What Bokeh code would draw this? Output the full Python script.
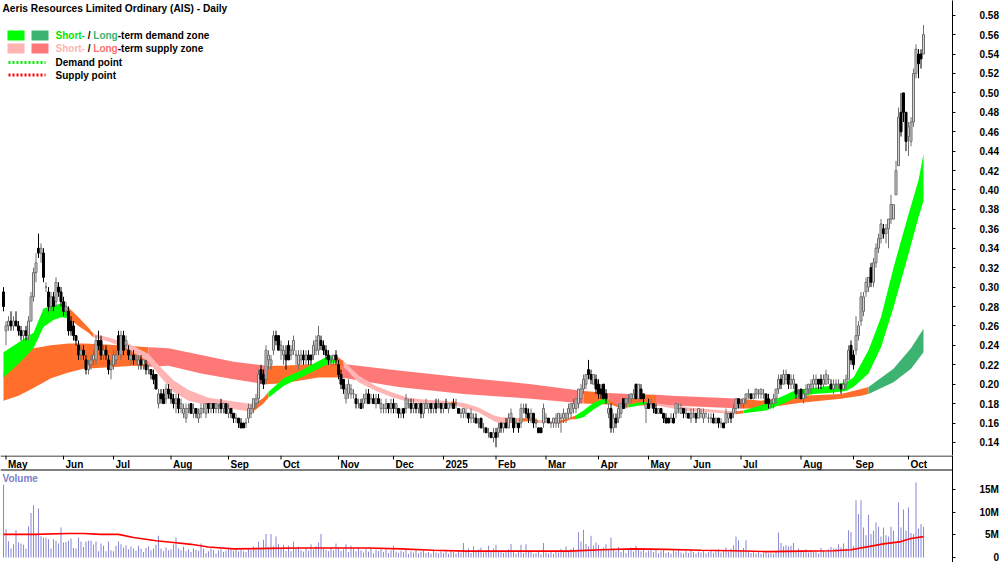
from bokeh.plotting import figure
from bokeh.models import Range1d, FixedTicker, PrintfTickFormatter, ColumnDataSource, Span
from bokeh.layouts import column
from bokeh.embed import file_html
from bokeh.resources import INLINE
from bokeh.core.properties import value

# ------------------------------------------------------------------ data
title_text = "Aeris Resources Limited Ordinary (AIS) - Daily"
month_labels = ["May", "Jun", "Jul", "Aug", "Sep", "Oct", "Nov", "Dec", "2025", "Feb",
                "Mar", "Apr", "May", "Jun", "Jul", "Aug", "Sep", "Oct"]
month_start_bar = [1, 24, 44, 67, 90, 111, 134, 156, 176, 197, 217, 238, 258, 275, 295, 319, 340, 362]
price_ticks = [0.14, 0.16, 0.18, 0.20, 0.22, 0.24, 0.26, 0.28, 0.30, 0.32, 0.34, 0.36,
               0.38, 0.40, 0.42, 0.44, 0.46, 0.48, 0.50, 0.52, 0.54, 0.56, 0.58]
vol_ticks = [0, 5, 10, 15]
vol_tick_labels = ["\u2007\u2007 0", "\u20075M", "10M", "15M"]

opens = [
    0.295, 0.255, 0.260, 0.265, 0.260, 0.265, 0.260, 0.255, 0.250, 0.255, 0.250, 0.265, 0.290, 0.315, 0.340, 0.335, 0.335, 0.300, 0.295, 0.280, 0.290, 0.285, 0.300, 0.295,
    0.285, 0.275, 0.275, 0.265, 0.260, 0.250, 0.240, 0.230, 0.235, 0.225, 0.215, 0.220, 0.225, 0.225, 0.245, 0.245, 0.230, 0.235, 0.225, 0.215,
    0.220, 0.225, 0.250, 0.230, 0.250, 0.240, 0.235, 0.225, 0.230, 0.225, 0.220, 0.225, 0.220, 0.220, 0.215, 0.215, 0.210, 0.210, 0.180, 0.190, 0.190, 0.185, 0.195,
    0.190, 0.185, 0.180, 0.185, 0.175, 0.170, 0.165, 0.175, 0.180, 0.170, 0.175, 0.165, 0.170, 0.175, 0.170, 0.180, 0.175, 0.180, 0.175, 0.175, 0.180, 0.175, 0.180,
    0.170, 0.175, 0.170, 0.165, 0.165, 0.160, 0.160, 0.160, 0.165, 0.170, 0.175, 0.180, 0.185, 0.215, 0.210, 0.205, 0.225, 0.220, 0.235, 0.250, 0.250,
    0.235, 0.230, 0.230, 0.240, 0.230, 0.235, 0.230, 0.220, 0.225, 0.230, 0.225, 0.230, 0.230, 0.230, 0.235, 0.235, 0.245, 0.240, 0.235, 0.230, 0.225, 0.225, 0.230,
    0.220, 0.210, 0.205, 0.185, 0.190, 0.190, 0.190, 0.185, 0.180, 0.180, 0.180, 0.185, 0.190, 0.185, 0.185, 0.180, 0.185, 0.175, 0.175, 0.175, 0.180, 0.175,
    0.180, 0.175, 0.175, 0.170, 0.175, 0.175, 0.180, 0.180, 0.175, 0.180, 0.175, 0.180, 0.170, 0.175, 0.175, 0.180, 0.175, 0.180, 0.180, 0.180,
    0.175, 0.180, 0.175, 0.180, 0.180, 0.180, 0.175, 0.170, 0.170, 0.170, 0.170, 0.165, 0.165, 0.165, 0.160, 0.165, 0.155, 0.155, 0.150, 0.150, 0.145,
    0.150, 0.150, 0.160, 0.155, 0.160, 0.155, 0.165, 0.165, 0.160, 0.160, 0.160, 0.175, 0.175, 0.170, 0.165, 0.170, 0.160, 0.155, 0.155, 0.160,
    0.165, 0.165, 0.160, 0.160, 0.160, 0.160, 0.165, 0.165, 0.165, 0.170, 0.170, 0.175, 0.175, 0.180, 0.185, 0.195, 0.200, 0.215, 0.210, 0.200, 0.205,
    0.200, 0.195, 0.200, 0.190, 0.170, 0.175, 0.155, 0.165, 0.165, 0.170, 0.185, 0.180, 0.185, 0.185, 0.185, 0.200, 0.185, 0.195, 0.190, 0.175,
    0.180, 0.180, 0.180, 0.175, 0.170, 0.175, 0.170, 0.165, 0.165, 0.165, 0.165, 0.170, 0.175, 0.170, 0.175, 0.170, 0.170,
    0.165, 0.170, 0.170, 0.165, 0.170, 0.165, 0.170, 0.165, 0.165, 0.165, 0.160, 0.165, 0.160, 0.160, 0.160, 0.165, 0.170, 0.170, 0.175, 0.185,
    0.180, 0.180, 0.185, 0.190, 0.190, 0.185, 0.190, 0.190, 0.190, 0.190, 0.190, 0.185, 0.180, 0.180, 0.185, 0.195, 0.205, 0.200, 0.205, 0.210, 0.200, 0.200, 0.200, 0.190,
    0.195, 0.185, 0.190, 0.195, 0.195, 0.200, 0.200, 0.205, 0.205, 0.200, 0.200, 0.205, 0.200, 0.195, 0.200, 0.200, 0.200, 0.195, 0.200, 0.205, 0.240,
    0.230, 0.235, 0.250, 0.265, 0.275, 0.295, 0.300, 0.320, 0.305, 0.325, 0.340, 0.350, 0.360, 0.355, 0.360, 0.370, 0.370, 0.395, 0.425, 0.480, 0.500, 0.480,
    0.455, 0.450, 0.470, 0.520, 0.540, 0.540, 0.540,
]
highs = [
    0.300, 0.265, 0.270, 0.275, 0.270, 0.275, 0.265, 0.260, 0.255, 0.260, 0.270, 0.295, 0.320, 0.335, 0.355, 0.345, 0.340, 0.305, 0.300, 0.295, 0.295, 0.310, 0.305, 0.300,
    0.290, 0.285, 0.280, 0.270, 0.265, 0.250, 0.245, 0.240, 0.240, 0.230, 0.225, 0.230, 0.235, 0.250, 0.255, 0.250, 0.240, 0.240, 0.230, 0.225,
    0.235, 0.235, 0.255, 0.255, 0.255, 0.250, 0.240, 0.235, 0.235, 0.230, 0.230, 0.230, 0.225, 0.225, 0.220, 0.215, 0.215, 0.210, 0.195, 0.195, 0.195, 0.200, 0.200,
    0.195, 0.190, 0.190, 0.190, 0.185, 0.180, 0.180, 0.180, 0.180, 0.180, 0.175, 0.175, 0.180, 0.180, 0.180, 0.180, 0.180, 0.180, 0.180, 0.180, 0.185, 0.180, 0.180,
    0.180, 0.175, 0.170, 0.170, 0.165, 0.165, 0.160, 0.165, 0.180, 0.180, 0.185, 0.190, 0.215, 0.220, 0.215, 0.240, 0.235, 0.230, 0.255, 0.255, 0.250,
    0.245, 0.240, 0.240, 0.245, 0.240, 0.250, 0.235, 0.235, 0.235, 0.235, 0.235, 0.235, 0.230, 0.245, 0.250, 0.260, 0.250, 0.245, 0.240, 0.235, 0.230, 0.230, 0.235,
    0.225, 0.215, 0.205, 0.200, 0.205, 0.200, 0.195, 0.190, 0.185, 0.185, 0.190, 0.195, 0.195, 0.190, 0.190, 0.190, 0.190, 0.185, 0.180, 0.185, 0.180, 0.185,
    0.185, 0.180, 0.175, 0.175, 0.175, 0.190, 0.185, 0.185, 0.185, 0.180, 0.180, 0.180, 0.180, 0.185, 0.180, 0.180, 0.180, 0.185, 0.185, 0.180,
    0.180, 0.185, 0.180, 0.180, 0.185, 0.185, 0.175, 0.175, 0.175, 0.175, 0.170, 0.175, 0.170, 0.170, 0.165, 0.165, 0.160, 0.155, 0.155, 0.150, 0.155,
    0.155, 0.160, 0.160, 0.160, 0.165, 0.170, 0.175, 0.165, 0.165, 0.160, 0.180, 0.180, 0.180, 0.175, 0.175, 0.170, 0.165, 0.155, 0.155, 0.180,
    0.170, 0.165, 0.160, 0.165, 0.170, 0.170, 0.170, 0.175, 0.170, 0.180, 0.180, 0.185, 0.185, 0.195, 0.200, 0.210, 0.210, 0.225, 0.215, 0.210, 0.210,
    0.205, 0.200, 0.200, 0.195, 0.180, 0.180, 0.170, 0.170, 0.180, 0.180, 0.185, 0.185, 0.190, 0.190, 0.195, 0.200, 0.200, 0.200, 0.190, 0.180,
    0.185, 0.185, 0.180, 0.180, 0.175, 0.175, 0.170, 0.170, 0.165, 0.170, 0.170, 0.180, 0.180, 0.180, 0.175, 0.175, 0.170,
    0.175, 0.175, 0.170, 0.175, 0.175, 0.175, 0.170, 0.170, 0.170, 0.170, 0.165, 0.165, 0.165, 0.160, 0.175, 0.170, 0.170, 0.180, 0.185, 0.185,
    0.185, 0.185, 0.190, 0.195, 0.190, 0.190, 0.195, 0.195, 0.195, 0.195, 0.190, 0.190, 0.185, 0.190, 0.195, 0.210, 0.210, 0.215, 0.215, 0.210, 0.210, 0.210, 0.200, 0.195,
    0.195, 0.195, 0.200, 0.200, 0.205, 0.210, 0.210, 0.205, 0.210, 0.210, 0.215, 0.210, 0.205, 0.205, 0.205, 0.205, 0.200, 0.205, 0.210, 0.240, 0.245,
    0.235, 0.270, 0.265, 0.295, 0.295, 0.310, 0.310, 0.325, 0.330, 0.345, 0.355, 0.370, 0.365, 0.365, 0.370, 0.395, 0.385, 0.430, 0.485, 0.500, 0.500, 0.480,
    0.470, 0.475, 0.525, 0.550, 0.545, 0.545, 0.570,
]
lows = [
    0.275, 0.240, 0.255, 0.255, 0.255, 0.260, 0.250, 0.245, 0.245, 0.245, 0.245, 0.265, 0.285, 0.305, 0.330, 0.325, 0.305, 0.295, 0.275, 0.275, 0.275, 0.280, 0.290, 0.280,
    0.270, 0.270, 0.250, 0.250, 0.245, 0.240, 0.225, 0.225, 0.225, 0.210, 0.210, 0.215, 0.220, 0.220, 0.235, 0.225, 0.225, 0.225, 0.210, 0.205,
    0.215, 0.220, 0.230, 0.225, 0.230, 0.235, 0.225, 0.220, 0.220, 0.220, 0.215, 0.215, 0.215, 0.210, 0.210, 0.205, 0.200, 0.195, 0.175, 0.180, 0.180, 0.180, 0.185,
    0.180, 0.175, 0.170, 0.170, 0.170, 0.165, 0.160, 0.170, 0.170, 0.165, 0.165, 0.160, 0.165, 0.170, 0.165, 0.170, 0.170, 0.170, 0.170, 0.170, 0.170, 0.170, 0.170,
    0.165, 0.165, 0.160, 0.160, 0.155, 0.155, 0.155, 0.155, 0.160, 0.165, 0.170, 0.175, 0.180, 0.200, 0.195, 0.200, 0.215, 0.215, 0.230, 0.240, 0.235,
    0.225, 0.220, 0.215, 0.225, 0.225, 0.230, 0.220, 0.215, 0.220, 0.220, 0.220, 0.220, 0.220, 0.225, 0.230, 0.230, 0.235, 0.230, 0.225, 0.220, 0.220, 0.220, 0.220,
    0.205, 0.195, 0.190, 0.180, 0.185, 0.185, 0.185, 0.175, 0.175, 0.175, 0.175, 0.180, 0.180, 0.180, 0.180, 0.175, 0.180, 0.170, 0.170, 0.170, 0.170, 0.170,
    0.170, 0.170, 0.165, 0.165, 0.165, 0.170, 0.175, 0.170, 0.170, 0.170, 0.170, 0.165, 0.165, 0.175, 0.170, 0.170, 0.170, 0.170, 0.175, 0.170,
    0.170, 0.175, 0.170, 0.175, 0.175, 0.175, 0.170, 0.165, 0.165, 0.165, 0.160, 0.160, 0.160, 0.160, 0.155, 0.155, 0.150, 0.150, 0.145, 0.145, 0.140,
    0.135, 0.145, 0.150, 0.150, 0.155, 0.155, 0.160, 0.150, 0.155, 0.150, 0.155, 0.170, 0.165, 0.160, 0.160, 0.155, 0.155, 0.150, 0.150, 0.155,
    0.160, 0.160, 0.155, 0.155, 0.155, 0.155, 0.150, 0.160, 0.160, 0.165, 0.165, 0.170, 0.170, 0.175, 0.180, 0.190, 0.195, 0.205, 0.200, 0.200, 0.190,
    0.185, 0.185, 0.185, 0.180, 0.165, 0.150, 0.150, 0.155, 0.160, 0.165, 0.175, 0.175, 0.180, 0.180, 0.185, 0.185, 0.185, 0.185, 0.180, 0.160,
    0.175, 0.175, 0.170, 0.170, 0.170, 0.170, 0.160, 0.160, 0.160, 0.160, 0.160, 0.165, 0.170, 0.170, 0.165, 0.165, 0.165,
    0.160, 0.165, 0.160, 0.165, 0.165, 0.160, 0.165, 0.160, 0.160, 0.160, 0.160, 0.155, 0.155, 0.155, 0.160, 0.160, 0.160, 0.165, 0.170, 0.175,
    0.175, 0.175, 0.180, 0.185, 0.185, 0.185, 0.185, 0.185, 0.185, 0.185, 0.180, 0.175, 0.175, 0.175, 0.180, 0.190, 0.195, 0.200, 0.200, 0.195, 0.195, 0.195, 0.185, 0.185,
    0.185, 0.180, 0.185, 0.190, 0.190, 0.195, 0.195, 0.195, 0.195, 0.195, 0.200, 0.200, 0.195, 0.190, 0.195, 0.195, 0.190, 0.195, 0.195, 0.205, 0.220,
    0.215, 0.230, 0.245, 0.260, 0.270, 0.290, 0.295, 0.300, 0.300, 0.320, 0.335, 0.345, 0.350, 0.345, 0.340, 0.365, 0.370, 0.395, 0.425, 0.455, 0.470, 0.440,
    0.435, 0.445, 0.465, 0.515, 0.515, 0.525, 0.540,
]
closes = [
    0.280, 0.260, 0.265, 0.260, 0.265, 0.260, 0.255, 0.250, 0.255, 0.250, 0.265, 0.290, 0.315, 0.325, 0.335, 0.340, 0.310, 0.300, 0.280, 0.290, 0.280, 0.305, 0.295, 0.285,
    0.275, 0.280, 0.255, 0.255, 0.250, 0.245, 0.230, 0.235, 0.230, 0.215, 0.220, 0.225, 0.230, 0.245, 0.240, 0.230, 0.235, 0.230, 0.215, 0.220,
    0.230, 0.230, 0.235, 0.250, 0.235, 0.245, 0.230, 0.230, 0.225, 0.225, 0.225, 0.220, 0.225, 0.215, 0.215, 0.210, 0.205, 0.195, 0.190, 0.185, 0.180, 0.195, 0.190,
    0.185, 0.180, 0.185, 0.175, 0.180, 0.175, 0.175, 0.175, 0.170, 0.175, 0.170, 0.170, 0.175, 0.175, 0.180, 0.175, 0.180, 0.175, 0.180, 0.175, 0.175, 0.180, 0.170,
    0.175, 0.170, 0.165, 0.165, 0.160, 0.155, 0.155, 0.160, 0.175, 0.175, 0.185, 0.185, 0.210, 0.205, 0.200, 0.235, 0.230, 0.225, 0.250, 0.245, 0.235,
    0.240, 0.235, 0.225, 0.225, 0.235, 0.245, 0.230, 0.230, 0.230, 0.225, 0.230, 0.225, 0.225, 0.240, 0.245, 0.250, 0.240, 0.235, 0.230, 0.225, 0.225, 0.230, 0.225,
    0.210, 0.200, 0.195, 0.195, 0.200, 0.195, 0.190, 0.180, 0.180, 0.175, 0.185, 0.190, 0.180, 0.185, 0.180, 0.185, 0.180, 0.180, 0.175, 0.180, 0.175, 0.180,
    0.175, 0.180, 0.170, 0.170, 0.170, 0.185, 0.180, 0.175, 0.180, 0.175, 0.180, 0.170, 0.180, 0.180, 0.180, 0.175, 0.180, 0.175, 0.180, 0.175,
    0.180, 0.175, 0.180, 0.180, 0.175, 0.180, 0.170, 0.170, 0.175, 0.170, 0.165, 0.170, 0.165, 0.160, 0.160, 0.155, 0.155, 0.150, 0.150, 0.145, 0.150,
    0.145, 0.155, 0.155, 0.160, 0.155, 0.165, 0.170, 0.155, 0.160, 0.155, 0.175, 0.175, 0.170, 0.165, 0.170, 0.160, 0.160, 0.150, 0.150, 0.175,
    0.165, 0.160, 0.160, 0.165, 0.165, 0.170, 0.165, 0.170, 0.170, 0.175, 0.180, 0.180, 0.185, 0.195, 0.195, 0.205, 0.210, 0.210, 0.205, 0.210, 0.195,
    0.190, 0.190, 0.185, 0.185, 0.175, 0.155, 0.165, 0.160, 0.175, 0.180, 0.175, 0.185, 0.185, 0.190, 0.190, 0.185, 0.200, 0.185, 0.185, 0.180,
    0.175, 0.180, 0.175, 0.170, 0.175, 0.170, 0.165, 0.160, 0.160, 0.165, 0.160, 0.180, 0.175, 0.175, 0.170, 0.170, 0.165,
    0.170, 0.170, 0.165, 0.175, 0.170, 0.170, 0.170, 0.165, 0.165, 0.160, 0.165, 0.160, 0.160, 0.155, 0.170, 0.170, 0.165, 0.175, 0.185, 0.180,
    0.180, 0.185, 0.190, 0.190, 0.185, 0.190, 0.195, 0.190, 0.195, 0.190, 0.180, 0.180, 0.180, 0.185, 0.195, 0.205, 0.200, 0.210, 0.210, 0.200, 0.205, 0.205, 0.190, 0.190,
    0.185, 0.190, 0.195, 0.200, 0.200, 0.205, 0.205, 0.200, 0.200, 0.205, 0.210, 0.205, 0.195, 0.200, 0.200, 0.200, 0.195, 0.200, 0.205, 0.235, 0.225,
    0.220, 0.250, 0.260, 0.290, 0.290, 0.305, 0.310, 0.305, 0.325, 0.340, 0.350, 0.365, 0.355, 0.360, 0.370, 0.385, 0.385, 0.420, 0.475, 0.460, 0.480, 0.450,
    0.465, 0.470, 0.520, 0.545, 0.530, 0.535, 0.560,
]
volumes_m = [
    16.0, 6.2, 3.6, 2.0, 2.9, 6.0, 3.3, 3.1, 2.8, 2.0, 6.9, 9.8, 11.5, 5.2, 10.8, 4.7, 4.4, 4.4, 4.0, 2.0,
    4.0, 3.7, 3.1, 6.6, 3.3, 3.4, 3.7, 4.2, 2.1, 2.0, 4.4, 3.5, 2.3, 3.5, 3.7, 3.7, 2.8, 3.5, 1.4, 3.1,
    2.6, 1.4, 3.5, 1.6, 1.4, 2.6, 3.5, 2.9, 2.2, 2.7, 1.8, 2.4, 2.0, 1.5, 2.6, 1.9, 1.2, 2.1, 2.5, 1.6,
    2.0, 2.8, 4.8, 1.9, 1.4, 2.2, 1.6, 1.8, 2.9, 4.4, 2.0, 1.6, 2.4, 1.4, 1.8, 1.2, 2.0, 1.7, 1.5, 3.1,
    1.9, 1.0, 1.4, 2.0, 1.6, 0.9, 1.6, 1.8, 1.2, 1.5, 2.2, 1.8, 1.5, 2.0, 1.3, 1.7, 1.4, 1.2, 1.9, 1.6,
    2.4, 1.8, 3.5, 2.0, 3.9, 5.2, 2.3, 5.2, 2.5, 4.6, 3.0, 2.0, 2.8, 1.5, 2.6, 1.4, 3.5, 1.9, 2.4, 1.6,
    1.3, 2.1, 1.5, 2.9, 1.8, 2.5, 3.3, 5.2, 2.0, 1.7, 1.4, 2.3, 1.6, 3.1, 2.2, 1.5, 1.8, 2.9, 1.2, 2.6,
    2.0, 1.4, 2.2, 1.6, 1.1, 1.9, 1.3, 2.1, 0.9, 1.7, 1.4, 1.8, 1.2, 2.0, 1.0, 1.6, 2.6, 1.3, 1.0, 1.5,
    1.2, 1.8, 0.8, 1.4, 1.1, 1.6, 0.9, 1.3, 1.5, 1.0, 1.2, 0.8, 1.7, 1.1, 0.9, 1.3, 1.0, 1.4, 0.8, 1.6,
    1.2, 0.9, 1.5, 1.1, 3.2, 1.4, 2.0, 1.0, 2.5, 1.3, 1.8, 2.2, 1.1, 1.6, 2.6, 1.2, 2.0, 2.8, 1.4, 1.6,
    1.0, 1.3, 1.8, 3.0, 1.2, 0.9, 1.5, 2.8, 1.0, 2.9, 1.6, 1.2, 0.8, 1.0, 1.3, 0.7, 3.2, 1.1, 0.9, 1.4,
    0.8, 1.6, 1.1, 1.9, 1.3, 2.4, 1.2, 1.8, 2.2, 1.5, 5.6, 3.5, 6.1, 3.0, 2.4, 4.8, 2.6, 3.3, 2.8, 1.9,
    2.2, 2.9, 1.6, 4.4, 2.0, 1.4, 2.3, 1.2, 1.7, 1.0, 1.6, 2.2, 1.3, 2.6, 1.8, 1.4, 1.9, 1.1, 1.5, 2.0,
    1.2, 1.6, 0.9, 1.4, 1.8, 1.0, 1.2, 0.8, 1.7, 1.3, 1.9, 1.1, 0.9, 1.4, 1.0, 1.6, 1.2, 0.8, 1.3, 1.1,
    1.5, 0.9, 1.2, 1.7, 1.0, 1.4, 1.8, 1.1, 1.6, 2.2, 1.3, 1.9, 2.7, 4.6, 3.8, 1.6, 2.1, 3.8, 1.2, 1.0,
    1.4, 0.9, 1.2, 0.8, 1.1, 1.3, 0.9, 1.0, 0.8, 1.2, 5.5, 3.2, 2.5, 2.7, 2.4, 2.6, 3.2, 1.4, 2.0, 1.6,
    1.3, 1.8, 1.1, 1.6, 1.2, 1.4, 0.9, 2.1, 1.5, 1.3, 1.8, 2.3, 1.9, 2.0, 2.9, 2.2, 3.1, 2.0, 6.0, 5.6,
    2.5, 12.6, 9.6, 12.6, 6.6, 4.9, 9.4, 5.2, 5.9,
    7.7, 6.8, 4.6, 6.6, 4.9, 4.6, 6.8, 5.9, 3.5, 12.1, 6.6, 10.6, 5.9, 11.0, 5.4, 5.2, 16.5, 6.4, 7.4, 6.8,
]
vol_ma_bar = [0, 12, 26, 32, 39, 46, 52, 61, 68, 75, 82, 92, 106, 119, 132, 146, 159, 172, 185, 199,
              226, 239, 252, 265, 279, 292, 306, 319, 332, 339, 346, 352, 359, 363, 368]
vol_ma_m = [5.1, 5.1, 5.3, 5.3, 5.1, 5.1, 4.4, 3.7, 3.3, 2.9, 2.3, 1.9, 2.0, 2.1, 2.1, 2.1, 1.9, 1.6, 1.4, 1.4,
            1.4, 1.7, 1.9, 1.8, 1.6, 1.5, 1.3, 1.4, 1.5, 1.7, 2.4, 3.0, 3.5, 4.2, 4.6]

short_zone_bar = [0, 6, 12, 16, 20, 23, 26, 30, 34, 36, 42, 50, 58, 63, 68, 74, 82, 90, 98, 100,
                  104, 106, 112, 119, 126, 130, 133, 136, 142, 149, 156, 162, 169, 176, 179, 181,
                  185, 190, 196, 199, 203, 206, 211, 214, 219, 222, 227, 229, 232, 236, 240, 242,
                  246, 250, 256, 258, 261, 274, 288, 293, 296, 305, 312, 317, 324, 330, 337, 340,
                  346, 351, 356, 362, 366, 368]
short_zone_top = [0.233, 0.243, 0.253, 0.278, 0.281, 0.283, 0.279, 0.269, 0.258, 0.252, 0.248, 0.242,
                  0.231, 0.217, 0.204, 0.194, 0.186, 0.183, 0.180, 0.179, 0.186, 0.192, 0.206, 0.214,
                  0.224, 0.229, 0.229, 0.224, 0.209, 0.198, 0.191, 0.186, 0.184, 0.183, 0.182, 0.182,
                  0.180, 0.176, 0.168, 0.166, 0.166, 0.165, 0.165, 0.163, 0.162, 0.162, 0.166, 0.168,
                  0.173, 0.181, 0.185, 0.184, 0.178, 0.179, 0.182, 0.181, 0.180, 0.176, 0.173, 0.172,
                  0.173, 0.180, 0.188, 0.194, 0.196, 0.198, 0.202, 0.207, 0.235, 0.269, 0.320, 0.375,
                  0.410, 0.437]
short_zone_bot = [0.207, 0.221, 0.237, 0.259, 0.266, 0.269, 0.268, 0.260, 0.253, 0.248, 0.244, 0.236,
                  0.223, 0.207, 0.192, 0.183, 0.178, 0.175, 0.172, 0.172, 0.180, 0.186, 0.198, 0.207,
                  0.216, 0.221, 0.222, 0.218, 0.202, 0.193, 0.186, 0.182, 0.180, 0.179, 0.178, 0.178,
                  0.175, 0.171, 0.162, 0.159, 0.160, 0.161, 0.162, 0.160, 0.160, 0.159, 0.164, 0.164,
                  0.166, 0.174, 0.180, 0.180, 0.176, 0.176, 0.179, 0.179, 0.178, 0.172, 0.170, 0.169,
                  0.170, 0.173, 0.180, 0.186, 0.190, 0.191, 0.193, 0.197, 0.211, 0.238, 0.279, 0.334,
                  0.372, 0.389]
short_seg_end = [26, 36, 100, 106, 133, 136, 179, 181, 206, 214, 222, 229, 242, 250, 258, 293, 296, 368]
short_seg_kind = ["demand", "neutral", "supply", "neutral", "demand", "neutral", "supply", "neutral",
                  "supply", "neutral", "supply", "neutral", "demand", "neutral", "demand", "supply",
                  "neutral", "demand"]

long_zone_bar = [0, 6, 12, 19, 26, 32, 39, 46, 52, 58, 66, 79, 92, 105, 112, 126, 135, 158, 184, 211,
                 232, 242, 250, 261, 267, 295, 303, 319, 335, 343, 346, 356, 363, 368]
long_zone_top = [0.212, 0.225, 0.237, 0.240, 0.242, 0.242, 0.241, 0.240, 0.239, 0.238, 0.237, 0.230,
                 0.223, 0.219, 0.219, 0.221, 0.221, 0.214, 0.207, 0.200, 0.193, 0.191, 0.190, 0.189,
                 0.188, 0.185, 0.183, 0.188, 0.190, 0.195, 0.197, 0.216, 0.237, 0.257]
long_zone_bot = [0.183, 0.188, 0.196, 0.206, 0.212, 0.216, 0.217, 0.218, 0.219, 0.218, 0.219, 0.211,
                 0.205, 0.200, 0.201, 0.207, 0.207, 0.197, 0.190, 0.185, 0.180, 0.179, 0.178, 0.178,
                 0.178, 0.175, 0.175, 0.181, 0.185, 0.188, 0.190, 0.202, 0.216, 0.233]
long_seg_end = [58, 105, 135, 232, 242, 250, 261, 295, 346, 368]
long_seg_kind = ["neutral", "supply", "neutral", "supply", "neutral", "supply", "neutral", "supply",
                 "neutral", "demand"]

# ------------------------------------------------------------------ styling / layout helpers
FONT = "Liberation Sans"
SHORT_COL = {"demand": "#00ff00", "supply": "#ffb4b4", "neutral": "#ff6e2a"}
LONG_COL = {"demand": "#3cb371", "supply": "#ff7878", "neutral": "#ff6e2a"}
BAR0_PX, BAR_PX = 3.0, 2.5
PRICE_REF, PRICE_REF_PY, PX_PER_PRICE = 0.58, 14.7, 971.0
VOL_ZERO_PY, PX_PER_M = 557.0, 4.54
FRAME_W, FRAME_H = 952, 455
PAGE_H = 562

def px_x(px):
    return (px - BAR0_PX) / BAR_PX

def py_p(py):
    return PRICE_REF + (PRICE_REF_PY - py) / PX_PER_PRICE

def py_v(py):
    return (VOL_ZERO_PY - py) / PX_PER_M

BOLD_W = {"M": 833, "a": 556, "y": 556, "J": 556, "u": 611, "n": 611, "l": 278, "A": 722, "g": 611,
          "S": 667, "e": 556, "p": 611, "O": 778, "c": 556, "t": 333, "N": 722, "o": 611, "v": 556,
          "D": 722, "F": 611, "b": 611, "r": 389, "0": 556, "2": 556, "5": 556, "h": 611, "-": 333,
          " ": 278, "/": 278, "L": 611}

def text_w(s, size):
    return sum(BOLD_W.get(ch, 556) for ch in s) * size / 1000.0

n = len(closes)
idx = list(range(n))
assert len(opens) == len(highs) == len(lows) == n == len(volumes_m)

# ------------------------------------------------------------------ price panel
p1 = figure(frame_width=FRAME_W, frame_height=FRAME_H, output_backend="svg", toolbar_location=None,
            x_range=Range1d(px_x(0), px_x(FRAME_W)), y_range=Range1d(py_p(FRAME_H), py_p(0)),
            y_axis_location="right", x_axis_location=None, min_border_left=0, min_border_right=48,
            min_border_top=0, min_border_bottom=0)
p1.grid.visible = False
p1.outline_line_color = None
p1.background_fill_color = "white"
p1.border_fill_color = "white"

def draw_zone(fig, xs, top, bot, seg_end, seg_kind, cols):
    start = xs[0]
    for end, kind in zip(seg_end, seg_kind):
        sel = [k for k, b in enumerate(xs) if start <= b <= end]
        fig.varea(x=[xs[k] for k in sel], y1=[bot[k] for k in sel], y2=[top[k] for k in sel],
                  fill_color=cols[kind], fill_alpha=1.0)
        start = end

draw_zone(p1, long_zone_bar, long_zone_top, long_zone_bot, long_seg_end, long_seg_kind, LONG_COL)
draw_zone(p1, short_zone_bar, short_zone_top, short_zone_bot, short_seg_end, short_seg_kind, SHORT_COL)

up = [c >= o for o, c in zip(opens, closes)]
src = ColumnDataSource(dict(
    x=idx, high=highs, low=lows,
    top=[max(o, c) for o, c in zip(opens, closes)],
    bottom=[min(o, c) for o, c in zip(opens, closes)],
    fill=["#d4d4d4" if u else "#000000" for u in up],
    line=["#6e6e6e" if u else "#000000" for u in up],
))
p1.segment(x0="x", y0="low", x1="x", y1="high", line_color="line", line_width=1, source=src)
p1.vbar(x="x", width=0.8, top="top", bottom="bottom", fill_color="fill", line_color="line",
        line_width=1, source=src)

ya = p1.yaxis[0]
ya.ticker = FixedTicker(ticks=price_ticks)
ya.formatter = PrintfTickFormatter(format="%.2f")
ya.major_tick_out = 3
ya.major_tick_in = 0
ya.minor_tick_out = 0
ya.minor_tick_in = 0
ya.major_label_standoff = 24
ya.major_label_text_font = FONT
ya.major_label_text_font_style = "bold"
ya.major_label_text_font_size = "10px"
ya.major_label_text_color = "black"
ya.axis_line_color = "black"

def put_text(fig, px, py, txt, color, conv=py_p, size="10px", align="left"):
    fig.text(x=[px_x(px)], y=[conv(py)], text=[txt], text_color=color, text_font=value(FONT),
             text_font_style="bold", text_font_size=size, text_baseline="middle", text_align=align)

# title and legend
put_text(p1, 2, 8, title_text, "black", size="10.2px")
p1.quad(left=[px_x(7), px_x(31)], right=[px_x(24), px_x(48)], top=[py_p(30), py_p(30)],
        bottom=[py_p(40), py_p(40)], fill_color=[SHORT_COL["demand"], LONG_COL["demand"]], line_color=None)
p1.quad(left=[px_x(7), px_x(31)], right=[px_x(24), px_x(48)], top=[py_p(43), py_p(43)],
        bottom=[py_p(53), py_p(53)], fill_color=[SHORT_COL["supply"], LONG_COL["supply"]], line_color=None)
p1.line(x=[px_x(8), px_x(45)], y=[py_p(62), py_p(62)], line_color="#00ee00", line_width=3, line_dash="2 2")
p1.line(x=[px_x(8), px_x(45)], y=[py_p(74.5), py_p(74.5)], line_color="#ff0000", line_width=3, line_dash="2 2")

for row_y, short_c, long_c, rest in [(35, "#00e600", "#3cb371", "-term demand zone"),
                                       (48, "#ffb4b4", "#ff6f6f", "-term supply zone")]:
    xcur = 55
    put_text(p1, xcur, row_y, "Short-", short_c)
    xcur += text_w("Short-", 10) + text_w(" ", 10)
    put_text(p1, xcur, row_y, "/", "black")
    xcur += text_w("/", 10) + text_w(" ", 10)
    put_text(p1, xcur, row_y, "Long", long_c)
    xcur += text_w("Long", 10)
    put_text(p1, xcur, row_y, rest, "black")
put_text(p1, 55, 62, "Demand point", "black")
put_text(p1, 55, 75, "Supply point", "black")

# ------------------------------------------------------------------ date strip + volume panel
p2 = figure(frame_width=FRAME_W, frame_height=PAGE_H - FRAME_H, output_backend="svg",
            toolbar_location=None, x_range=p1.x_range,
            y_range=Range1d(py_v(PAGE_H), py_v(FRAME_H)),
            y_axis_location="right", x_axis_location=None, min_border_left=0, min_border_right=48,
            min_border_top=0, min_border_bottom=0)
p2.grid.visible = False
p2.outline_line_color = None
p2.background_fill_color = "white"
p2.border_fill_color = "white"

# date axis lines, month ticks and labels
p2.add_layout(Span(location=py_v(455.5), dimension="width", line_color="black", line_width=1))
p2.add_layout(Span(location=py_v(469.5), dimension="width", line_color="black", line_width=1))
p2.segment(x0=month_start_bar, x1=month_start_bar, y0=[py_v(455)] * len(month_start_bar),
           y1=[py_v(459)] * len(month_start_bar), line_color="black", line_width=1)
p2.text(x=[m + 2 / BAR_PX for m in month_start_bar], y=[py_v(463.5)] * len(month_start_bar),
        text=month_labels, text_color="black", text_font=value(FONT), text_font_style="bold",
        text_font_size="10px", text_baseline="middle", text_align="left")

p2.vbar(x=idx, width=0.42, top=volumes_m, bottom=0, fill_color="#8c8cd6", line_color=None)
p2.line(x=vol_ma_bar, y=vol_ma_m, line_color="#ff0000", line_width=1.6)

va = p2.yaxis[0]
va.ticker = FixedTicker(ticks=vol_ticks)
va.major_label_overrides = {t: lbl for t, lbl in zip(vol_ticks, vol_tick_labels)}
va.major_tick_out = 3
va.major_tick_in = 0
va.minor_tick_out = 0
va.minor_tick_in = 0
va.major_label_standoff = 24
va.major_label_text_font = FONT
va.major_label_text_font_style = "bold"
va.major_label_text_font_size = "10px"
va.major_label_text_color = "black"
va.axis_line_color = "black"

put_text(p2, 2, 478, "Volume", "#8080cc", conv=py_v)

layout = column(p1, p2, spacing=0)
open("out.html", "w").write(file_html(layout, INLINE, title=title_text))
